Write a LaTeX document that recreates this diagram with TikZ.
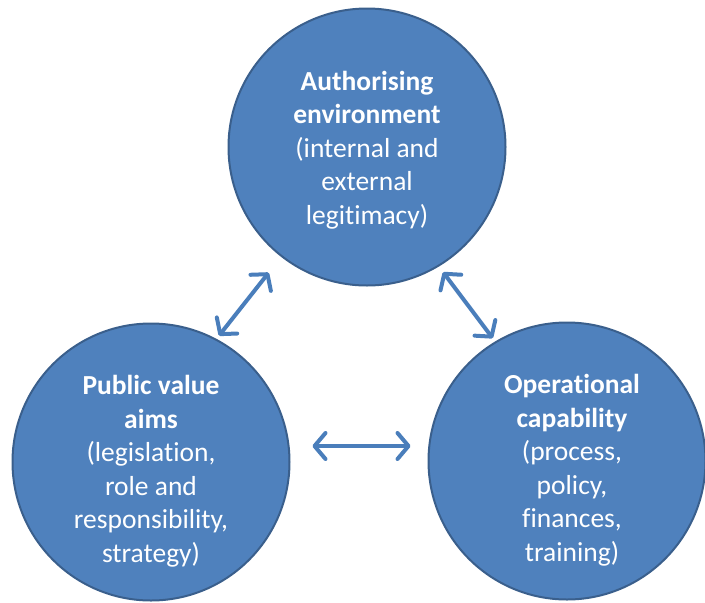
\documentclass[tikz,border=0pt]{standalone}
\usepackage{fontspec}
\setmainfont{Carlito}[Ligatures={NoCommon}]
\usetikzlibrary{arrows.meta}

\definecolor{ballfill}{HTML}{4F81BD}
\definecolor{balledge}{HTML}{3A5F8C}
\definecolor{linkblue}{HTML}{4A7EBB}

\begin{document}
\begin{tikzpicture}[x = 1pt, y = -1pt,
		ball/.style = {circle, fill=ballfill, draw=balledge, line width=2pt, minimum size=277pt, inner sep=0pt},
		words/.style = {text=white, align=center, inner sep=0pt, font=\fontsize{27.5}{33.5}\selectfont},
		link/.style = {draw=linkblue, line width=4pt, line cap=round, {Straight Barb[length=11pt, width=26pt, line width=4pt, round]}-{Straight Barb[length=11pt, width=26pt, line width=4pt, round]}}]
		\useasboundingbox (0,0) rectangle (705,603);
		\node [ball] (auth) at (367,147) {};
		\node [ball] (aims) at (151,462) {};
		\node [ball] (oper) at (567,461) {};
		\node [words] (auth-text) at ([yshift=-3pt]auth.center) {\textbf{Authorising}\\\textbf{environment}\\(internal and\\external\\legitimacy)};
		\node [words] (aims-text) at ([yshift=-9pt]aims.center) {\textbf{Public value}\\\textbf{aims}\\(legislation,\\role and\\responsibility,\\strategy)};
		\node [words] (oper-text) at ([xshift=5pt, yshift=-9pt]oper.center) {\textbf{Operational}\\\textbf{capability}\\(process,\\policy,\\finances,\\training)};
		\draw [link, shorten <=4pt, shorten >=20pt] (aims.62) -- (auth.232);
		\draw [link, shorten <=7pt, shorten >=4pt] (auth.301) -- (oper.121);
		\draw [link, shorten <=22pt, shorten >=17pt] ([yshift=16pt]aims.east) -- ([yshift=15pt]oper.west);
	\end{tikzpicture}
\end{document}
